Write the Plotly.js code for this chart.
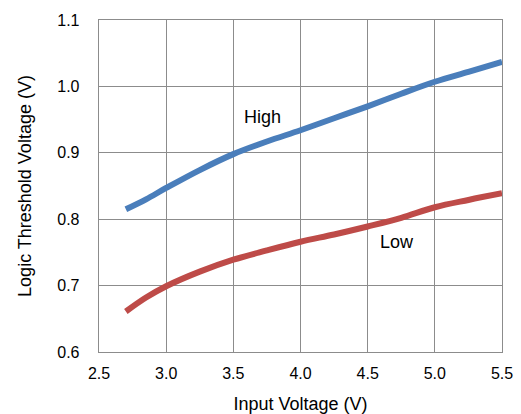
<!DOCTYPE html>
<html>
<head>
<meta charset="utf-8">
<script src="https://cdn.plot.ly/plotly-3.0.1.min.js"></script>
<style>html,body{margin:0;padding:0;background:#fff;}#chart{width:521px;height:414px;}</style>
</head>
<body>
<div id="chart"></div>
<script>
const inputVoltage = [2.7, 2.85, 3.0, 3.25, 3.5, 3.75, 4.0, 4.25, 4.5, 4.75, 5.0, 5.25, 5.5];
const highThreshold = [0.815, 0.830, 0.847, 0.874, 0.898, 0.917, 0.934, 0.952, 0.970, 0.989, 1.007, 1.022, 1.037];
const lowThreshold = [0.661, 0.682, 0.699, 0.721, 0.739, 0.753, 0.766, 0.777, 0.789, 0.802, 0.818, 0.829, 0.839];
const xTicks = [2.5, 3.0, 3.5, 4.0, 4.5, 5.0, 5.5];
const yTicks = [0.6, 0.7, 0.8, 0.9, 1.0, 1.1];

const font = {family: 'Liberation Sans, Arial, sans-serif', color: '#000'};
const traces = [
  {x: inputVoltage, y: highThreshold, mode: 'lines', line: {color: '#4a7ebb', width: 6, shape: 'spline', smoothing: 1}, name: 'High'},
  {x: inputVoltage, y: lowThreshold, mode: 'lines', line: {color: '#be4b48', width: 6, shape: 'spline', smoothing: 1}, name: 'Low'}
];
const layout = {
  width: 521, height: 414,
  margin: {l: 99, r: 19, t: 20, b: 62},
  showlegend: false,
  paper_bgcolor: '#fff', plot_bgcolor: '#fff',
  font: Object.assign({size: 16}, font),
  xaxis: {
    range: [2.5, 5.5], tickvals: xTicks, ticktext: xTicks.map(v => v.toFixed(1)),
    showgrid: true, gridcolor: '#8c8c8c', gridwidth: 1.3,
    showline: true, linecolor: '#8c8c8c', linewidth: 1.3, mirror: true,
    zeroline: false, ticks: '', ticklabelstandoff: 6,
    tickfont: Object.assign({size: 16}, font),
    title: {text: 'Input Voltage (V)', font: Object.assign({size: 18}, font), standoff: 18}
  },
  yaxis: {
    range: [0.6, 1.1], tickvals: yTicks, ticktext: yTicks.map(v => v.toFixed(1)),
    showgrid: true, gridcolor: '#8c8c8c', gridwidth: 1.3,
    showline: true, linecolor: '#8c8c8c', linewidth: 1.3, mirror: true,
    zeroline: false, ticks: '', ticklabelstandoff: 15,
    tickfont: Object.assign({size: 16}, font),
    title: {text: 'Logic Threshold Voltage (V)', font: Object.assign({size: 18}, font), standoff: 21}
  },
  annotations: [
    {x: 3.72, y: 0.954, text: 'High', showarrow: false, font: Object.assign({size: 18}, font)},
    {x: 4.72, y: 0.765, text: 'Low', showarrow: false, font: Object.assign({size: 18}, font)}
  ]
};
Plotly.newPlot('chart', traces, layout, {displayModeBar: false, staticPlot: true});
</script>
</body>
</html>
